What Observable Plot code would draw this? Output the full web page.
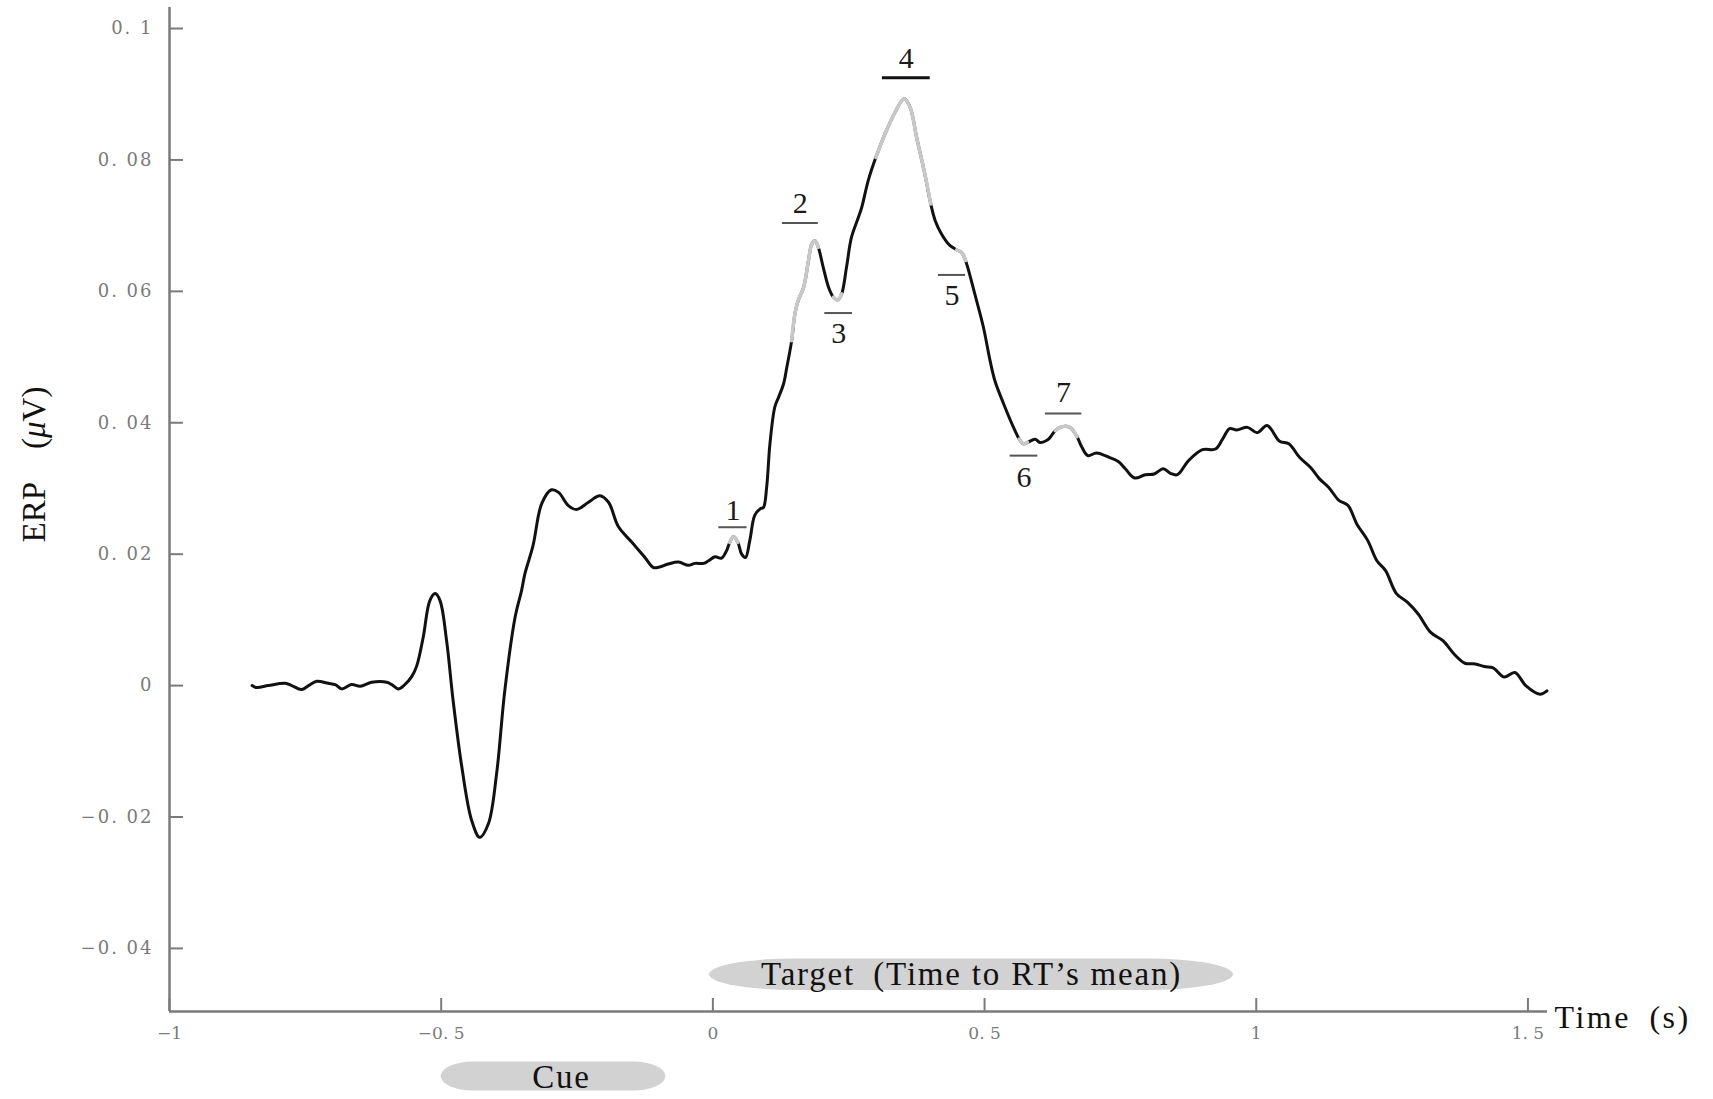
<!DOCTYPE html>
<html><head><meta charset="utf-8">
<script src="https://cdn.jsdelivr.net/npm/d3@7"></script>
<script src="https://cdn.jsdelivr.net/npm/@observablehq/plot@0.6"></script>
<style>body{margin:0;background:#fff;}</style>
</head><body><div id="chart"></div>
<script>
// ERP waveform (time in s, amplitude in µV)
const timeS = [
-0.848,-0.840,-0.818,-0.787,-0.775,-0.757,-0.744,-0.729,-0.708,-0.695,-0.683,-0.665,-0.649,-0.628,-0.600,-0.591,-0.579,-0.567,-0.554,-0.545,-0.533,-0.521,-0.511,-0.502,-0.490,-0.478,-0.462,-0.444,-0.429,-0.413,-0.398,-0.383,-0.364,-0.352,-0.346,-0.331,-0.315,-0.297,-0.284,-0.266,-0.251,-0.229,-0.208,-0.192,-0.174,-0.149,-0.125,-0.110,-0.100,-0.082,-0.063,-0.045,-0.033,-0.017,-0.008,
0.004,0.016,0.025,0.031,0.038,0.046,0.053,0.060,0.068,0.077,0.087,0.093,0.099,0.105,0.114,0.121,0.130,0.136,0.145,0.151,0.157,0.167,0.176,0.182,0.188,0.194,0.203,0.213,0.222,0.230,0.237,0.246,0.255,0.268,0.274,0.286,0.300,0.317,0.335,0.352,0.363,0.375,0.390,0.401,0.409,0.421,0.436,0.449,0.458,0.465,0.482,0.498,0.510,0.519,0.535,0.556,0.564,0.571,0.579,0.593,0.602,0.614,0.620,0.630,0.642,0.657,0.670,0.679,0.690,0.706,0.730,0.746,0.759,0.776,0.796,0.812,0.829,0.842,0.855,0.875,0.901,0.925,0.938,0.951,0.964,0.984,
1.002,1.020,1.043,1.060,1.080,1.100,1.116,1.133,1.152,1.169,1.185,1.205,1.222,1.238,1.258,1.278,1.298,1.321,1.344,1.364,1.384,1.403,1.420,1.436,1.456,1.476,1.496,1.522,1.535];
const erpUV = [
0.0000,-0.0003,0.0000,0.00035,0.0000,-0.0006,0.0000,0.00066,0.00035,0.00015,-0.0005,0.00015,-0.0001,0.0005,0.0005,0.00015,-0.0005,0.00015,0.0014,0.0030,0.0074,0.0129,0.0140,0.0129,0.0068,-0.0023,-0.0124,-0.0205,-0.0231,-0.0210,-0.0134,-0.0008,0.0104,0.0145,0.0170,0.0213,0.0277,0.0298,0.0294,0.0274,0.0268,0.0279,0.0289,0.0279,0.0242,0.0218,0.0195,0.0180,0.0180,0.0185,0.0188,0.0183,0.0186,0.0186,0.0190,
0.0196,0.0194,0.0205,0.0218,0.0227,0.0218,0.0200,0.0195,0.0221,0.0259,0.0269,0.0271,0.0302,0.0368,0.0424,0.0439,0.0459,0.0484,0.0525,0.0566,0.0586,0.0606,0.0647,0.0672,0.0677,0.0667,0.0637,0.0606,0.0591,0.0587,0.0596,0.0637,0.0682,0.0713,0.0728,0.0769,0.0804,0.0840,0.0872,0.0893,0.0880,0.0834,0.0779,0.0733,0.0708,0.0687,0.0670,0.0663,0.0659,0.0647,0.0596,0.0545,0.0495,0.0464,0.0429,0.0388,0.0375,0.0368,0.0370,0.0375,0.0370,0.0373,0.0377,0.0388,0.0394,0.0393,0.0379,0.0363,0.0350,0.0354,0.0347,0.0341,0.0330,0.0316,0.0321,0.0322,0.0330,0.0323,0.0321,0.0342,0.0359,0.0360,0.0375,0.0391,0.0389,0.0393,
0.0385,0.0396,0.0372,0.0368,0.0347,0.0332,0.0315,0.0302,0.0282,0.0274,0.0246,0.0221,0.0190,0.0175,0.0140,0.0127,0.0109,0.0081,0.0068,0.0048,0.0034,0.0033,0.0029,0.0027,0.0013,0.0020,0.0000,-0.0013,-0.0008];

// ERP components (highlighted stretches of the waveform and their markers)
const compNames = ["1","2","3","4","5","6","7"];
const compStartS = [0.031, 0.145, 0.222, 0.300, 0.449, 0.564, 0.630];
const compEndS   = [0.046, 0.194, 0.237, 0.401, 0.465, 0.579, 0.670];
const markerX1 = [0.011, 0.128, 0.206, 0.312, 0.415, 0.547, 0.612];
const markerX2 = [0.063, 0.194, 0.257, 0.400, 0.465, 0.598, 0.679];
const markerY  = [0.0241, 0.0704, 0.0567, 0.0925, 0.0625, 0.0350, 0.0414];
const labelY   = [0.0266, 0.0734, 0.0536, 0.0954, 0.0594, 0.0317, 0.0446];

// Epoch bars (Cue, Target)
const epochNames = ["Cue", "Target\u2002(Time to RT\u2019s mean)"];
const epochStart = [-0.5, -0.006];
const epochEnd   = [-0.0865, 0.958];
const epochLow   = [-0.0617, -0.0464];
const epochHigh  = [-0.0573, -0.0416];

// Axes
const xTicks = [-1, -0.5, 0, 0.5, 1, 1.5];
const yTicks = [-0.04, -0.02, 0, 0.02, 0.04, 0.06, 0.08, 0.1];
const xDomain = [-1, 1.536];
const yDomain = [-0.0496, 0.1032];
const xTitle = "Time\u2002(s)";
const yTitle = "ERP\u2003(\u03bcV)";

const points = timeS.map((t, i) => ({t, v: erpUV[i]}));
const highlight = [];
compNames.forEach((c, k) => {
  points.forEach(p => { if (p.t >= compStartS[k] - 1e-9 && p.t <= compEndS[k] + 1e-9) highlight.push({...p, comp: c}); });
});
const markers = compNames.map((c, k) => ({c, x1: markerX1[k], x2: markerX2[k], y: markerY[k], ly: labelY[k], xm: (markerX1[k] + markerX2[k]) / 2}));
const epochs = epochNames.map((n, k) => ({n, x1: epochStart[k], x2: epochEnd[k], y1: epochLow[k], y2: epochHigh[k], xm: (epochStart[k] + epochEnd[k]) / 2, ym: (epochLow[k] + epochHigh[k]) / 2}));

const fmt = d => d === 0 ? "0" : (d < 0 ? "\u2212" : "") + d3.format("~g")(Math.abs(d)).replace(".", ". ");
const axisGray = "#7a7a7a";
const serif = "Liberation Serif";

const chart = Plot.plot({
  width: 1713, height: 1099,
  marginLeft: 169, marginRight: 166, marginTop: 7, marginBottom: 88,
  x: {domain: xDomain, label: null},
  y: {domain: yDomain, label: null},
  style: {fontFamily: "DejaVu Serif", background: "white", overflow: "visible"},
  marks: [
    Plot.rect(epochs.filter(d => d.n === "Cue"), {x1: "x1", x2: "x2", y1: "y1", y2: "y2", fill: "#d2d2d2", rx: 32, ry: 15}),
    Plot.rect(epochs.filter(d => d.n !== "Cue"), {x1: "x1", x2: "x2", y1: "y1", y2: "y2", fill: "#d2d2d2", rx: 85, ry: 16}),
    Plot.text(epochs.filter(d => d.n === "Cue"), {x: "xm", y: "ym", text: "n", fontFamily: serif, fontSize: 33, fill: "#111", dy: 1, dx: 8}),
    Plot.text(epochs.filter(d => d.n !== "Cue"), {x: "xm", y: "ym", text: "n", fontFamily: serif, fontSize: 33, fill: "#111", dy: 0}),
    Plot.ruleX([xDomain[0]], {stroke: axisGray, strokeWidth: 2.5}),
    Plot.ruleY([yDomain[0]], {stroke: axisGray, strokeWidth: 2.5}),
    Plot.axisY(yTicks, {tickSize: -14, tickFormat: () => "", color: axisGray, strokeWidth: 2, label: null}),
    Plot.axisY(yTicks, {tickSize: 0, tickPadding: 16, tickFormat: fmt, color: axisGray, fontSize: 18, label: null}),
    Plot.axisX(xTicks, {tickSize: -13, tickFormat: () => "", color: axisGray, strokeWidth: 2, label: null}),
    Plot.axisX(xTicks, {tickSize: 0, tickPadding: 15, tickFormat: fmt, color: axisGray, fontSize: 17, label: null}),
    Plot.line(points, {x: "t", y: "v", stroke: "#111", strokeWidth: 3, curve: "catmull-rom", strokeLinejoin: "round"}),
    Plot.line(highlight, {x: "t", y: "v", z: "comp", stroke: "#c8c8c8", strokeWidth: 3.6, curve: "catmull-rom", strokeLinejoin: "round"}),
    Plot.ruleY(markers.filter(d => d.c !== "4"), {x1: "x1", x2: "x2", y: "y", stroke: "#555", strokeWidth: 2}),
    Plot.ruleY(markers.filter(d => d.c === "4"), {x1: "x1", x2: "x2", y: "y", stroke: "#111", strokeWidth: 3}),
    Plot.text(markers, {x: "xm", y: "ly", text: "c", fontFamily: serif, fontSize: 30, fill: "#1a1a1a"}),
    Plot.text([xTitle], {frameAnchor: "bottom-right", dx: 7, dy: 6, textAnchor: "start", lineAnchor: "middle", fontFamily: serif, fontSize: 32, fill: "#111"}),
    Plot.text([yTitle], {frameAnchor: "left", dx: -135, dy: -45, rotate: -90, textAnchor: "middle", lineAnchor: "middle", fontFamily: serif, fontSize: 33, fill: "#111"})
  ]
});
document.getElementById("chart").appendChild(chart);

// finishing touches: italic mu, letter spacing like the reference's wide serif
chart.querySelectorAll("text").forEach(el => {
  const s = el.textContent;
  if (s === yTitle) {
    el.textContent = "";
    const parts = [["ERP\u2003(", null], ["\u03bc", "italic"], ["V)", null]];
    for (const [p, st] of parts) {
      const ts = document.createElementNS("http://www.w3.org/2000/svg", "tspan");
      ts.textContent = p;
      if (st) ts.setAttribute("font-style", st);
      el.appendChild(ts);
    }
  } else if (s === xTitle) {
    el.setAttribute("letter-spacing", "2.5");
  } else if (epochNames.includes(s)) {
    el.setAttribute("letter-spacing", "1.8");
  } else if (yTicks.map(fmt).includes(s) && el.closest('[aria-label="y-axis tick label"]')) {
    el.setAttribute("letter-spacing", "2");
  }
});
</script>
</body></html>
